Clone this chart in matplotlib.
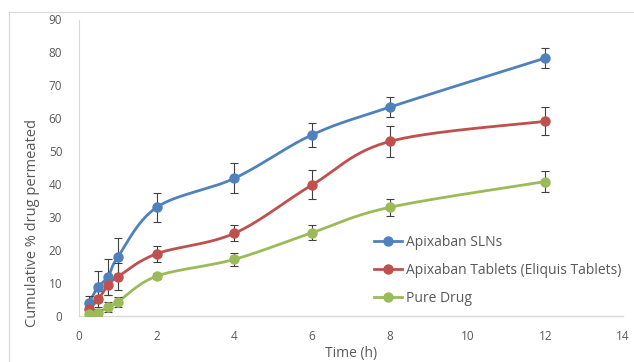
import numpy as np
import matplotlib
matplotlib.use("Agg")
from matplotlib import pyplot as plt
from matplotlib.lines import Line2D

#%% Datos

time = [0.25, 0.5, 0.75, 1, 2, 4, 6, 8, 12]

sln = [4.0, 8.9, 11.9, 17.9, 33.0, 41.8, 55.0, 63.4, 78.3]
sln_err = [2.2, 4.7, 5.5, 5.8, 4.4, 4.6, 3.6, 3.0, 2.9]

tab = [2.0, 5.1, 9.4, 11.9, 18.9, 25.1, 39.8, 53.0, 59.1]
tab_err = [1.0, 2.5, 3.0, 4.1, 2.4, 2.4, 4.4, 4.7, 4.3]

pure = [0.5, 1.0, 2.8, 4.3, 12.1, 17.2, 25.3, 33.0, 40.8]
pure_err = [0.5, 1.0, 1.5, 1.5, 1.0, 2.0, 2.2, 2.6, 3.2]

labels = ['Apixaban SLNs', 'Apixaban Tablets (Eliquis Tablets)', 'Pure Drug']
colors = ['#4F81BD', '#C0504D', '#9BBB59']

#%% Suavizado tipo Excel (bezier / catmull-rom)

def smooth(x, y, n=30):
    x = np.asarray(x, float)
    y = np.asarray(y, float)
    P = np.column_stack([x, y])
    P = np.vstack([P[0], P, P[-1]])
    out = []
    for i in range(1, len(P) - 2):
        p0, p1, p2, p3 = P[i-1], P[i], P[i+1], P[i+2]
        c1 = p1 + (p2 - p0) / 6
        c2 = p2 - (p3 - p1) / 6
        t = np.linspace(0, 1, n)[:, None]
        seg = (1-t)**3*p1 + 3*(1-t)**2*t*c1 + 3*(1-t)*t**2*c2 + t**3*p2
        out.append(seg if i == 1 else seg[1:])
    s = np.vstack(out)
    return s[:, 0], s[:, 1]

#%% Grafico

plt.rcParams['font.family'] = ['Open Sans', 'DejaVu Sans']
fig = plt.figure(figsize=(6.34, 3.62), dpi=100)
ax = fig.add_axes([79/634, 1-316/362, (623-79)/634, (316-19.5)/362])

grey = '#D9D9D9'
fig.add_artist(Line2D([9/634, 1], [1-12/362, 1-12/362], color=grey, lw=0.8))
fig.add_artist(Line2D([9/634, 9/634], [0, 1-12/362], color=grey, lw=0.8))

for y, e, c in zip([sln, tab, pure], [sln_err, tab_err, pure_err], colors):
    xs, ys = smooth(time, y)
    ax.plot(xs, ys, color=c, lw=2, zorder=2)
    ax.errorbar(time, y, yerr=e, fmt='none', ecolor='#404040', elinewidth=0.8,
                capsize=3, capthick=0.8, zorder=3)
    ax.plot(time, y, 'o', color=c, markersize=6.5, zorder=4)

handles = [Line2D([], [], color=c, lw=2, marker='o', markersize=6.5) for c in colors]
ax.legend(handles, labels, loc='upper left', bbox_to_anchor=(367/634, 1-228/362),
          bbox_transform=fig.transFigure, frameon=False, fontsize=10,
          handlelength=2.0, handletextpad=0.3, labelspacing=0.95,
          labelcolor='#595959', borderpad=0)

ax.set_xlim(0, 14)
ax.set_ylim(0, 90)
ax.set_xticks(range(0, 15, 2))
ax.set_yticks(range(0, 91, 10))
ax.tick_params(length=0, colors='#595959', labelsize=8.5)
ax.tick_params(axis='y', pad=12)
ax.tick_params(axis='x', pad=10)
for s in ['top', 'right']:
    ax.spines[s].set_visible(False)
ax.spines['bottom'].set_color(grey)
ax.spines['left'].set_color(grey)
ax.spines['left'].set_linewidth(0.8)
ax.spines['bottom'].set_linewidth(1)

ax.set_xlabel('Time (h)', color='#595959', fontsize=10, labelpad=2)
fig.text(33/634, 1-223/362, 'Cumulative % drug permeated', rotation=90,
         ha='center', va='center', color='#595959', fontsize=10.5)

fig.savefig('out.png', dpi=100)
